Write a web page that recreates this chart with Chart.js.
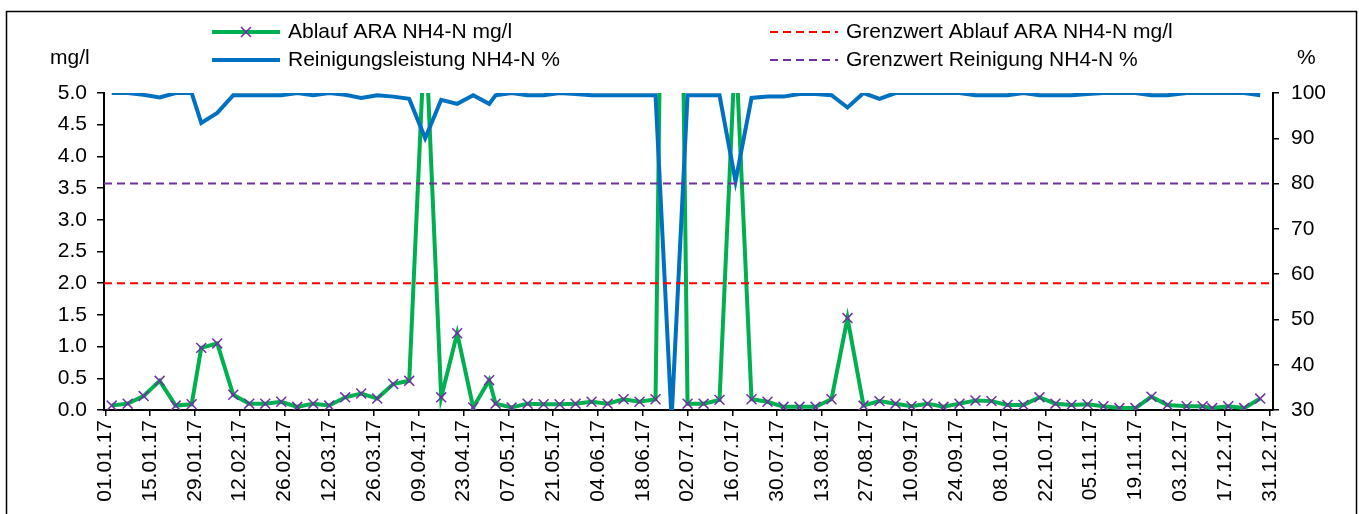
<!DOCTYPE html>
<html>
<head>
<meta charset="utf-8">
<script src="https://cdn.jsdelivr.net/npm/chart.js@4.4.0/dist/chart.umd.min.js"></script>
<style>
  html, body { margin: 0; padding: 0; background: #fff; }
  #chartContainer { position: relative; width: 1359px; height: 514px; }
</style>
</head>
<body>
<div id="chartContainer"><canvas id="line-chart" width="1359" height="514"></canvas></div>
<script>
// Probenahmedaten 2017
const sampleDates = [
  "03.01.17", "08.01.17", "13.01.17", "18.01.17", "23.01.17", "28.01.17", "31.01.17",
  "05.02.17", "10.02.17", "15.02.17", "20.02.17", "25.02.17",
  "02.03.17", "07.03.17", "12.03.17", "17.03.17", "22.03.17", "27.03.17",
  "01.04.17", "06.04.17", "11.04.17", "16.04.17", "21.04.17", "26.04.17",
  "01.05.17", "03.05.17", "08.05.17", "13.05.17", "18.05.17", "23.05.17", "28.05.17",
  "02.06.17", "07.06.17", "12.06.17", "17.06.17", "22.06.17", "27.06.17",
  "02.07.17", "07.07.17", "12.07.17", "17.07.17", "22.07.17", "27.07.17",
  "01.08.17", "06.08.17", "11.08.17", "16.08.17", "21.08.17", "26.08.17", "31.08.17",
  "05.09.17", "10.09.17", "15.09.17", "20.09.17", "25.09.17", "30.09.17",
  "05.10.17", "10.10.17", "15.10.17", "20.10.17", "25.10.17", "30.10.17",
  "04.11.17", "09.11.17", "14.11.17", "19.11.17", "24.11.17", "29.11.17",
  "05.12.17", "10.12.17", "13.12.17", "18.12.17", "23.12.17", "28.12.17"
];

// Ablauf ARA NH4-N mg/l
const ablaufNH4 = [
  0.07, 0.10, 0.22, 0.46, 0.07, 0.09, 0.98,
  1.05, 0.24, 0.10, 0.10, 0.13,
  0.05, 0.10, 0.07, 0.20, 0.26, 0.18,
  0.41, 0.46, 6.1, 0.20, 1.21, 0.04,
  0.47, 0.10, 0.04, 0.10, 0.09, 0.09, 0.10,
  0.13, 0.10, 0.17, 0.13, 0.17, 20,
  0.10, 0.10, 0.16, 5.8, 0.17, 0.13,
  0.05, 0.05, 0.05, 0.17, 1.45, 0.07, 0.14,
  0.10, 0.06, 0.10, 0.05, 0.10, 0.15,
  0.14, 0.08, 0.08, 0.20, 0.10, 0.08,
  0.09, 0.06, 0.03, 0.03, 0.21, 0.08,
  0.06, 0.06, 0.03, 0.06, 0.03, 0.18
];

// Reinigungsleistung NH4-N %
const reinigungNH4 = [
  100, 100, 99.6, 99.0, 100, 100, 93.4,
  95.6, 99.5, 99.5, 99.5, 99.5,
  100, 99.5, 100, 99.6, 98.9, 99.5,
  99.2, 98.7, 90.0, 98.5, 97.6, 99.5,
  97.6, 99.5, 100, 99.5, 99.5, 100, 99.8,
  99.5, 99.5, 99.5, 99.5, 99.5, 28,
  99.5, 99.5, 99.5, 80.5, 98.9, 99.2,
  99.2, 99.8, 99.8, 99.5, 96.8, 100, 98.7,
  100, 100, 100, 100, 100, 99.5,
  99.5, 99.5, 100, 99.5, 99.5, 99.5,
  99.8, 100, 100, 100, 99.5, 99.5,
  100, 100, 100, 100, 100, 99.5
];

const grenzwertAblauf = 2.0;
const grenzwertReinigung = 80;

const tickDates = [
  "01.01.17", "15.01.17", "29.01.17", "12.02.17", "26.02.17", "12.03.17", "26.03.17",
  "09.04.17", "23.04.17", "07.05.17", "21.05.17", "04.06.17", "18.06.17", "02.07.17",
  "16.07.17", "30.07.17", "13.08.17", "27.08.17", "10.09.17", "24.09.17", "08.10.17",
  "22.10.17", "05.11.17", "19.11.17", "03.12.17", "17.12.17", "31.12.17"
];

// dd.mm.yy -> Tag seit 01.01.17
const dayOfYear = (s) => {
  const [d, m, y] = s.split(".").map(Number);
  return (Date.UTC(2000 + y, m - 1, d) - Date.UTC(2017, 0, 1)) / 86400000;
};

const xMin = -0.4;
const xMax = 365;

const green = "#00B050";
const blue = "#0070C0";
const red = "#FF0000";
const purple = "#7030A0";
const tickFont = { family: '"Liberation Sans", Arial, sans-serif', size: 21 };
const legendFont = '21px "Liberation Sans", Arial, sans-serif';

const toPoints = (vals) => sampleDates.map((d, i) => ({ x: dayOfYear(d), y: vals[i] }));

const legendItems = [
  { label: "Ablauf ARA NH4-N mg/l", color: green, width: 4, dash: [], marker: true, x: 212, y: 32 },
  { label: "Reinigungsleistung NH4-N %", color: blue, width: 4, dash: [], marker: false, x: 212, y: 60 },
  { label: "Grenzwert Ablauf ARA NH4-N mg/l", color: red, width: 2, dash: [8, 5], marker: false, x: 770, y: 32 },
  { label: "Grenzwert Reinigung NH4-N %", color: purple, width: 2, dash: [8, 5], marker: false, x: 770, y: 60 }
];

const drawCross = (ctx, x, y, r) => {
  ctx.save();
  ctx.strokeStyle = purple;
  ctx.lineWidth = 1.5;
  ctx.setLineDash([]);
  ctx.beginPath();
  ctx.moveTo(x - r, y - r);
  ctx.lineTo(x + r, y + r);
  ctx.moveTo(x - r, y + r);
  ctx.lineTo(x + r, y - r);
  ctx.stroke();
  ctx.restore();
};

//rahmen, legende, einheiten
const chartFrame = {
  id: "chartFrame",
  beforeDraw(chart) {
    const { ctx, width, height } = chart;
    ctx.save();
    ctx.fillStyle = "#fff";
    ctx.fillRect(0, 0, width, height);
    ctx.strokeStyle = "#000";
    ctx.lineWidth = 1.5;
    ctx.strokeRect(6.5, 11.5, width - 9, height + 20);
    ctx.restore();
  },
  afterDraw(chart) {
    const ctx = chart.ctx;
    ctx.save();
    ctx.font = legendFont;
    ctx.textBaseline = "middle";
    ctx.fillStyle = "#000";
    legendItems.forEach((item) => {
      const len = 68;
      ctx.beginPath();
      ctx.setLineDash(item.dash);
      ctx.strokeStyle = item.color;
      ctx.lineWidth = item.width;
      ctx.moveTo(item.x, item.y);
      ctx.lineTo(item.x + len, item.y);
      ctx.stroke();
      ctx.setLineDash([]);
      if (item.marker) drawCross(ctx, item.x + len / 2, item.y, 5);
      ctx.fillText(item.label, item.x + len + 8, item.y);
    });
    ctx.font = '21px "Liberation Sans", Arial, sans-serif';
    ctx.fillText("mg/l", 50, 58);
    ctx.fillText("%", 1297, 58);
    ctx.restore();
  }
};

new Chart(document.getElementById("line-chart"), {
  type: "line",
  data: {
    datasets: [
      {
        label: "Grenzwert Ablauf ARA NH4-N mg/l",
        data: [{ x: xMin, y: grenzwertAblauf }, { x: xMax, y: grenzwertAblauf }],
        borderColor: red,
        borderWidth: 2,
        borderDash: [8, 5],
        pointRadius: 0,
        yAxisID: "y",
        order: 0,
      },
      {
        label: "Grenzwert Reinigung NH4-N %",
        data: [{ x: xMin, y: grenzwertReinigung }, { x: xMax, y: grenzwertReinigung }],
        borderColor: purple,
        borderWidth: 2,
        borderDash: [8, 5],
        pointRadius: 0,
        yAxisID: "y1",
        order: 1,
      },
      {
        label: "Reinigungsleistung NH4-N %",
        data: toPoints(reinigungNH4),
        borderColor: blue,
        borderWidth: 4,
        pointRadius: 0,
        yAxisID: "y1",
        order: 2,
      },
      {
        label: "Ablauf ARA NH4-N mg/l",
        data: toPoints(ablaufNH4),
        borderColor: green,
        borderWidth: 4,
        pointStyle: "crossRot",
        pointRadius: 7,
        pointBorderWidth: 1.5,
        pointBorderColor: purple,
        pointBackgroundColor: purple,
        yAxisID: "y",
        order: 3,
      },
    ],
  },
  options: {
    responsive: false,
    animation: false,
    layout: { padding: { top: 93, left: 0, right: 0, bottom: 0 } },
    plugins: {
      legend: { display: false },
      tooltip: { enabled: false },
    },
    scales: {
      x: {
        type: "linear",
        min: xMin,
        max: xMax,
        afterBuildTicks: (scale) => {
          scale.ticks = tickDates.map((t) => ({ value: dayOfYear(t) }));
        },
        afterFit: (scale) => { scale.height = 104; },
        ticks: {
          autoSkip: false,
          minRotation: 90,
          maxRotation: 90,
          padding: 4,
          color: "#000",
          font: tickFont,
          callback: (value, index) => tickDates[index],
        },
        grid: { drawOnChartArea: false, tickLength: 6, color: "#000", lineWidth: 1.5 },
        border: { color: "#000", width: 2 },
      },
      y: {
        position: "left",
        min: 0,
        max: 5,
        afterFit: (scale) => { scale.width = 104; },
        ticks: {
          stepSize: 0.5,
          padding: 10,
          color: "#000",
          font: tickFont,
          callback: (v) => v.toFixed(1),
        },
        grid: { drawOnChartArea: false, tickLength: 7, color: "#000", lineWidth: 1.5 },
        border: { color: "#000", width: 2 },
      },
      y1: {
        position: "right",
        min: 30,
        max: 100,
        afterFit: (scale) => { scale.width = 86; },
        ticks: {
          stepSize: 10,
          padding: 12,
          color: "#000",
          font: tickFont,
        },
        grid: { drawOnChartArea: false, tickLength: 6, color: "#000", lineWidth: 1.5 },
        border: { color: "#000", width: 2 },
      },
    },
  },
  plugins: [chartFrame],
});
</script>
</body>
</html>
